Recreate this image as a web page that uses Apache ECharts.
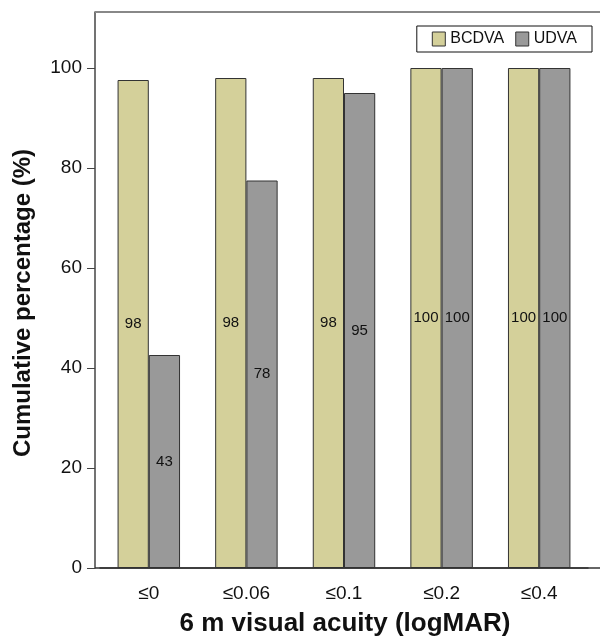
<!DOCTYPE html>
<html>
<head>
<meta charset="utf-8">
<script src="https://cdn.jsdelivr.net/npm/echarts@6/dist/echarts.min.js"></script>
<style>html,body{margin:0;padding:0;background:#fff;}#c{width:600px;height:639px;}</style>
</head>
<body>
<div id="c"></div>
<script>
var categories = ['≤0', '≤0.06', '≤0.1', '≤0.2', '≤0.4'];
var bcdva = [97.6, 98, 98, 100, 100];
var udva = [42.6, 77.5, 95, 100, 100];
var yTicks = [0, 20, 40, 60, 80, 100];

var chart = echarts.init(document.getElementById('c'));
var font = 'Liberation Sans, Arial, sans-serif';
var lbl = {
  show: true, position: 'inside', color: '#111', fontSize: 15, fontFamily: font,
  formatter: function (p) { return String(Math.round(p.value)); }
};
chart.setOption({
  animation: false,
  grid: { left: 100, right: 12, top: 12, bottom: 71, containLabel: false, outerBoundsMode: 'none' },
  legend: {
    data: ['BCDVA', 'UDVA'],
    right: 8, top: 26,
    orient: 'horizontal',
    borderColor: '#111', borderWidth: 1, borderRadius: 0,
    padding: [5, 15, 5, 15],
    itemWidth: 13, itemHeight: 14, itemGap: 11,
    icon: 'rect',
    itemStyle: { borderColor: '#333', borderWidth: 1 },
    textStyle: { fontSize: 16, color: '#111', fontFamily: font }
  },
  xAxis: {
    type: 'category',
    data: categories,
    name: '6 m visual acuity (logMAR)',
    nameLocation: 'middle', nameGap: 43,
    nameTextStyle: { fontSize: 26, fontWeight: 'bold', color: '#111', fontFamily: font, padding: [0, 0, 0, 2] },
    axisLine: { lineStyle: { color: '#333', width: 1.5 } },
    axisTick: { alignWithLabel: true, length: 7, lineStyle: { color: '#333' } },
    axisLabel: { fontSize: 19, color: '#111', margin: 16, fontFamily: font }
  },
  yAxis: {
    type: 'value',
    min: 0, max: 111.2, interval: 20,
    offset: 5,
    name: 'Cumulative percentage (%)',
    nameLocation: 'middle', nameGap: 60,
    nameTextStyle: { fontSize: 24, fontWeight: 'bold', color: '#111', fontFamily: font, padding: [0, 26, 0, 0] },
    axisLine: { show: true, lineStyle: { color: '#444', width: 1.5 } },
    axisTick: { show: true, length: 8, customValues: yTicks, lineStyle: { color: '#444' } },
    splitLine: { show: false },
    axisLabel: {
      fontSize: 19, color: '#111', margin: 13, fontFamily: font,
      customValues: yTicks
    }
  },
  graphic: [
    { type: 'line', shape: { x1: 95, y1: 12, x2: 600, y2: 12 }, style: { stroke: '#888', lineWidth: 2 }, z: 10 },
    { type: 'line', shape: { x1: 95, y1: 568, x2: 600, y2: 568 }, style: { stroke: '#333', lineWidth: 1.5 }, z: 10 }
  ],
  series: [
    {
      name: 'BCDVA', type: 'bar', data: bcdva, barWidth: '32%', barGap: '0%',
      itemStyle: { color: '#d4d09a', borderColor: '#333', borderWidth: 1 },
      label: lbl
    },
    {
      name: 'UDVA', type: 'bar', data: udva, barWidth: '32%',
      itemStyle: { color: '#999999', borderColor: '#333', borderWidth: 1 },
      label: lbl
    }
  ]
});
</script>
</body>
</html>
